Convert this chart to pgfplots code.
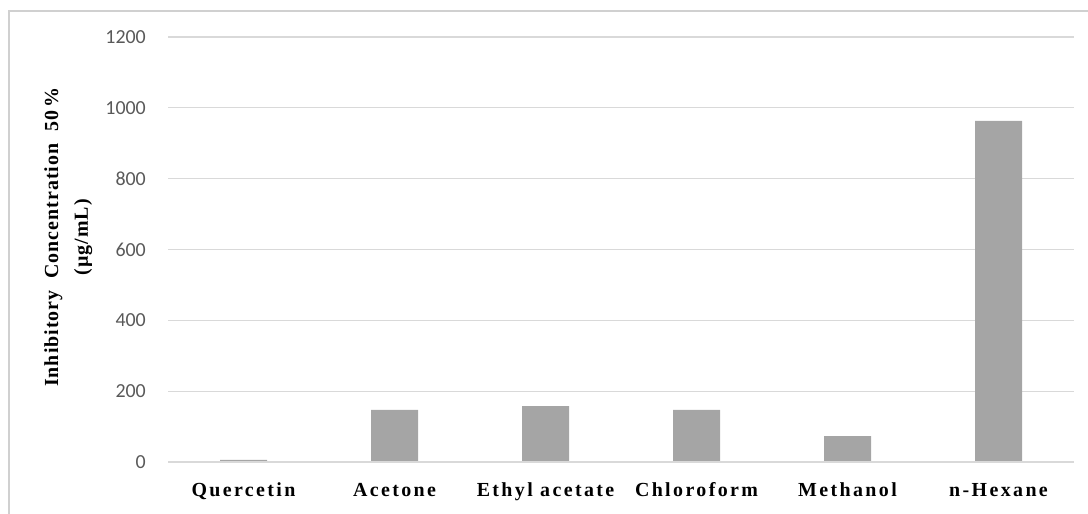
\documentclass[border=0pt]{standalone}
\usepackage{pgfplots}
\pgfplotsset{compat=1.18}
\usepackage{fontspec}
\setmainfont{Liberation Serif}
\newfontfamily\tickfont{Carlito}
\newfontfamily\labfont{Liberation Serif}[LetterSpace=12]
\newfontfamily\ylabfont{Liberation Serif}[LetterSpace=5]
\definecolor{bargray}{HTML}{A5A5A5}
\definecolor{gridgray}{HTML}{D9D9D9}
\definecolor{tickgray}{HTML}{595959}
\definecolor{framegray}{HTML}{D0D0D0}
\begin{document}
\begin{tikzpicture}[x=1bp,y=1bp]
\path[use as bounding box] (0,0) rectangle (1088,514);
\draw[framegray, line width=1.2bp] (9,0) -- (9,503) -- (1088,503);
\begin{axis}[
  at={(168bp,52bp)}, anchor=south west,
  scale only axis, width=906bp, height=425bp,
  xmin=-0.5, xmax=5.5, ymin=0, ymax=1200,
  ytick={0,200,...,1200},
  xtick={0,1,2,3,4,5},
  xticklabels={Quercetin,Acetone,Ethyl acetate,Chloroform,Methanol,n-Hexane},
  ymajorgrids, grid style={gridgray, line width=1.2bp},
  axis line style={draw=none},
  major tick length=0pt,
  tick style={draw=none},
  /pgf/number format/assume math mode=true,
  /pgf/number format/1000 sep={},
  yticklabel style={font=\tickfont\fontsize{20}{24}\selectfont, text=tickgray, anchor=east, inner sep=0pt, xshift=-22bp},
  xticklabel style={font=\labfont\bfseries\fontsize{20}{24}\selectfont, anchor=base, inner sep=0pt, yshift=-35bp},
  ylabel={Inhibitory\ \ Concentration\ \ 50\,\%\\(µg/mL)},
  ylabel style={font=\ylabfont\bfseries\fontsize{20}{30}\selectfont, align=center, at={(axis description cs:-0.110,0.529)}, anchor=center, rotate=0},
  clip=false,
]
\addplot[ybar, bar width=47bp, fill=bargray, draw=none] coordinates {
  (0,6) (1,147) (2,158) (3,147) (4,73) (5,963)
};
\draw[gridgray, line width=1.2bp] (axis cs:-0.5,0) -- (axis cs:5.5,0);
\end{axis}
\end{tikzpicture}
\end{document}
